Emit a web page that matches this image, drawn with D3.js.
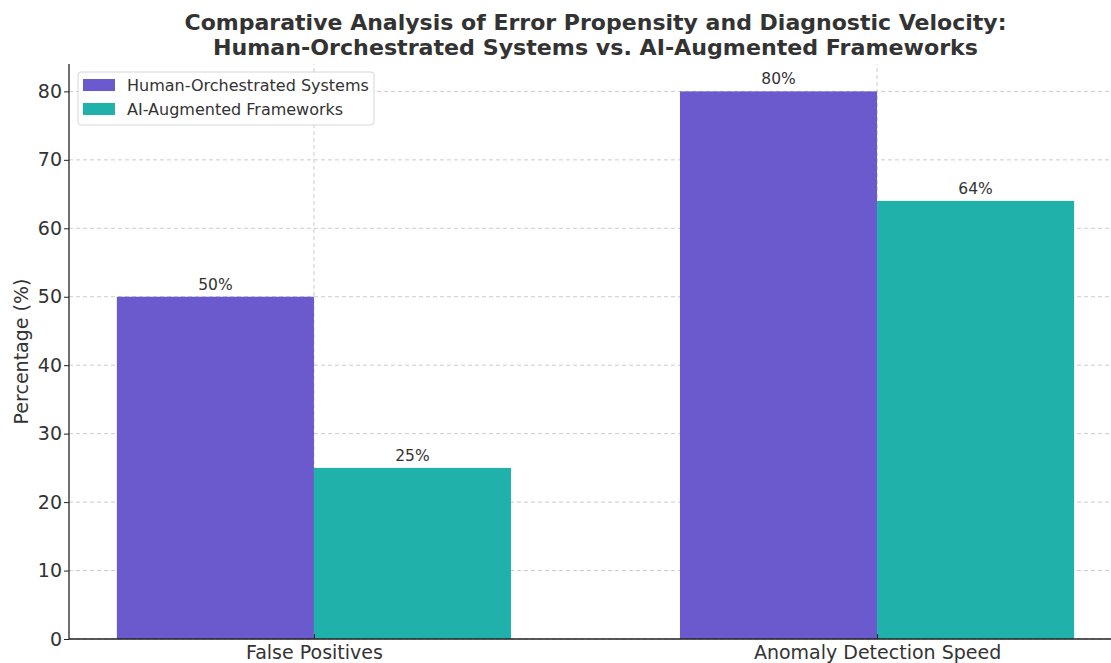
<!DOCTYPE html>
<html>
<head>
<meta charset="utf-8">
<script src="https://cdn.jsdelivr.net/npm/d3@7"></script>
<style>
  html, body { margin: 0; padding: 0; background: #fff; }
  svg { display: block; font-family: "DejaVu Sans", sans-serif; }
</style>
</head>
<body>
<svg id="chart" width="1111" height="663"></svg>
<script>
// Chart data
const categories = ["False Positives", "Anomaly Detection Speed"];
const seriesNames = ["Human-Orchestrated Systems", "AI-Augmented Frameworks"];
const humanValues = [50, 80];
const aiValues = [25, 64];
const yTicks = [0, 10, 20, 30, 40, 50, 60, 70, 80];
const titleLines = [
  "Comparative Analysis of Error Propensity and Diagnostic Velocity:",
  "Human-Orchestrated Systems vs. AI-Augmented Frameworks"
];

const colors = ["#6A5ACD", "#20B2AA"];
const series = [humanValues, aiValues];

const svg = d3.select("#chart");
const W = 1111, H = 663;
const x0 = 69, x1 = 1122;   // plot area runs past the right edge
const y0 = 639, y1 = 64;

const barWidth = 0.35;
// Category positions on a linear scale, with padding around the bars
const xScale = d3.scaleLinear().domain([-0.435, 1.435]).range([x0, x1]);
const yScale = d3.scaleLinear().domain([0, 84]).range([y0, y1]);

const textColor = "#333333";

// Grid lines (behind bars)
const grid = svg.append("g");
grid.selectAll("line.h").data(yTicks).join("line")
  .attr("x1", x0).attr("x2", x1)
  .attr("y1", d => yScale(d)).attr("y2", d => yScale(d))
  .attr("stroke", "#cccccc").attr("stroke-width", 1)
  .attr("stroke-dasharray", "4,3");
grid.selectAll("line.v").data(categories).join("line")
  .attr("x1", (d, i) => xScale(i)).attr("x2", (d, i) => xScale(i))
  .attr("y1", y0).attr("y2", y1)
  .attr("stroke", "#cccccc").attr("stroke-width", 1)
  .attr("stroke-dasharray", "4,3");

// Bars with value labels
series.forEach((vals, s) => {
  const offset = s === 0 ? -barWidth : 0;
  const g = svg.append("g");
  g.selectAll("rect").data(vals).join("rect")
    .attr("x", (d, i) => xScale(i + offset))
    .attr("width", (d, i) => xScale(i + offset + barWidth) - xScale(i + offset))
    .attr("y", d => yScale(d))
    .attr("height", d => y0 - yScale(d))
    .attr("fill", colors[s]);
  g.selectAll("text").data(vals).join("text")
    .attr("x", (d, i) => xScale(i + offset + barWidth / 2))
    .attr("y", d => yScale(d) - 7)
    .attr("text-anchor", "middle")
    .attr("font-size", 15.5)
    .attr("fill", textColor)
    .text(d => d + "%");
});

// Y axis
const yAxis = d3.axisLeft(yScale).tickValues(yTicks).tickSize(5).tickPadding(2);
const gy = svg.append("g").attr("transform", `translate(${x0},0)`).call(yAxis);
gy.select(".domain").attr("d", `M0,${y0}V${y1}`).attr("stroke", "#222").attr("stroke-width", 1.3);
gy.selectAll(".tick line").attr("stroke", "#222");
gy.selectAll(".tick text").attr("font-size", 19).attr("fill", textColor)
  .attr("font-family", "DejaVu Sans, sans-serif");

// X axis
const xAxis = d3.axisBottom(xScale).tickValues([0, 1])
  .tickFormat(i => categories[i]).tickSize(5);
const gx = svg.append("g").attr("transform", `translate(0,${y0})`).call(xAxis);
gx.select(".domain").attr("d", `M${x0},0H${x1}`).attr("stroke", "#222").attr("stroke-width", 1.3);
gx.selectAll(".tick line").attr("stroke", "#222").attr("y1", -5).attr("y2", 0);
gx.selectAll(".tick text").attr("font-size", 19).attr("fill", textColor)
  .attr("font-family", "DejaVu Sans, sans-serif")
  .attr("y", 20).attr("dy", null);

// Y label
svg.append("text")
  .attr("transform", `translate(28,${(y0 + y1) / 2}) rotate(-90)`)
  .attr("text-anchor", "middle")
  .attr("font-size", 19)
  .attr("fill", textColor)
  .text("Percentage (%)");

// Title
const titleWidths = [822, 765];
svg.append("g").selectAll("text").data(titleLines).join("text")
  .attr("x", (x0 + x1) / 2)
  .attr("y", (d, i) => 30 + i * 24.5)
  .attr("text-anchor", "middle")
  .attr("font-size", 21)
  .attr("font-weight", "bold")
  .attr("fill", textColor)
  .attr("textLength", (d, i) => titleWidths[i])
  .attr("lengthAdjust", "spacingAndGlyphs")
  .text(d => d);

// Legend
const legend = svg.append("g").attr("transform", "translate(78,72)");
legend.append("rect")
  .attr("width", 296).attr("height", 53).attr("rx", 3)
  .attr("fill", "#fff").attr("fill-opacity", 0.85)
  .attr("stroke", "#d6d6d6");
seriesNames.forEach((name, i) => {
  legend.append("rect")
    .attr("x", 5).attr("y", 7 + i * 24)
    .attr("width", 32).attr("height", 12)
    .attr("fill", colors[i]);
  legend.append("text")
    .attr("x", 49).attr("y", 19 + i * 24)
    .attr("font-size", 16)
    .attr("fill", textColor)
    .text(name);
});
</script>
</body>
</html>
